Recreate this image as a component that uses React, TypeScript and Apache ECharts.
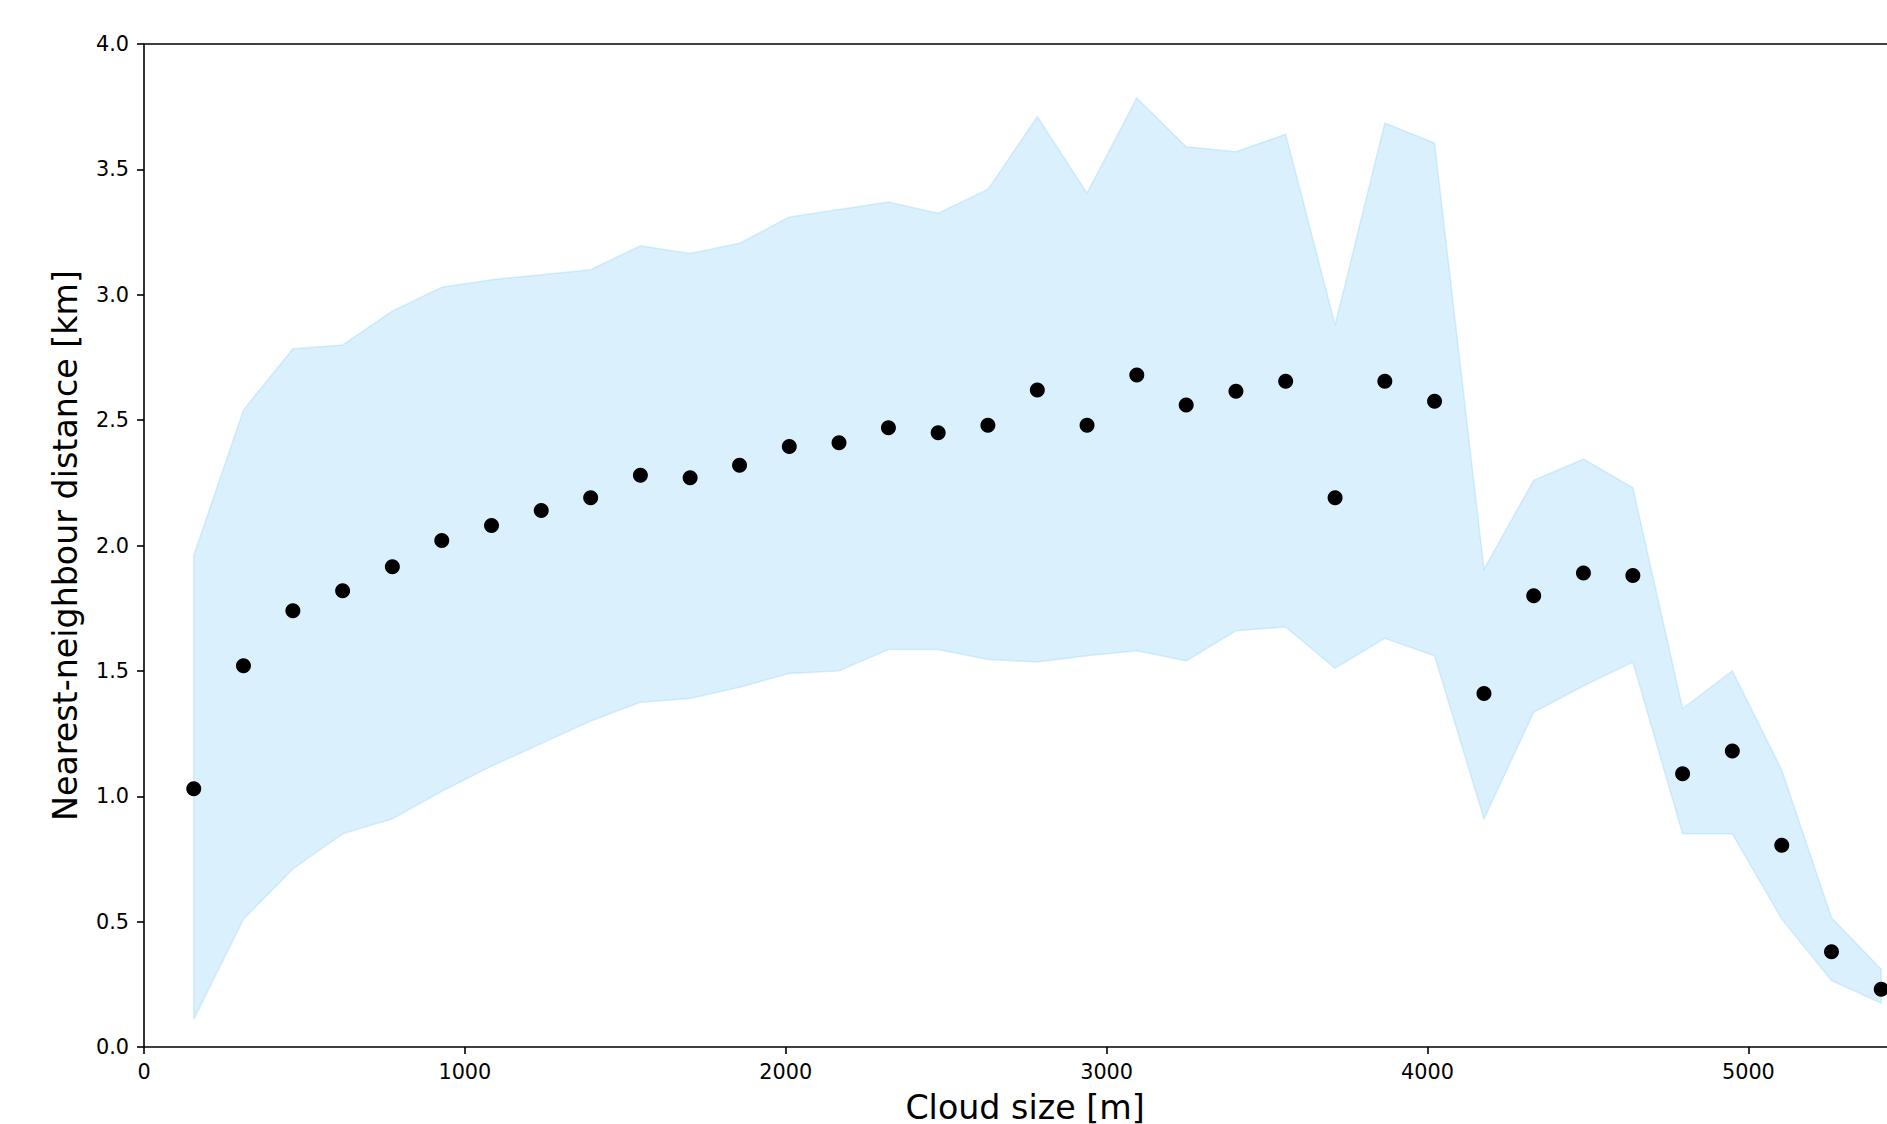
import React, { useEffect, useRef } from "react";
import * as echarts from "echarts";

const cloudSize = [155, 310, 464, 619, 774, 928, 1083, 1238, 1392, 1547, 1702, 1856, 2011, 2166, 2320, 2475, 2630, 2784, 2939, 3094, 3248, 3403, 3558, 3712, 3867, 4022, 4176, 4331, 4486, 4640, 4795, 4950, 5104, 5259, 5414];
const meanDist = [1.03, 1.52, 1.74, 1.82, 1.915, 2.02, 2.08, 2.14, 2.19, 2.28, 2.27, 2.32, 2.395, 2.41, 2.47, 2.45, 2.48, 2.62, 2.48, 2.68, 2.56, 2.615, 2.655, 2.19, 2.655, 2.575, 1.41, 1.8, 1.89, 1.88, 1.09, 1.18, 0.805, 0.38, 0.23];
const upperDist = [1.96, 2.54, 2.785, 2.8, 2.935, 3.03, 3.06, 3.08, 3.1, 3.195, 3.165, 3.205, 3.31, 3.34, 3.37, 3.325, 3.42, 3.71, 3.405, 3.785, 3.59, 3.57, 3.64, 2.88, 3.685, 3.605, 1.905, 2.26, 2.345, 2.23, 1.35, 1.5, 1.105, 0.515, 0.31];
const lowerDist = [0.11, 0.51, 0.71, 0.85, 0.91, 1.02, 1.12, 1.21, 1.3, 1.375, 1.39, 1.435, 1.49, 1.5, 1.585, 1.585, 1.545, 1.535, 1.56, 1.58, 1.54, 1.66, 1.675, 1.51, 1.63, 1.56, 0.91, 1.335, 1.44, 1.535, 0.85, 0.85, 0.51, 0.265, 0.175];
const xTicks = [0, 1000, 2000, 3000, 4000, 5000];
const yTicks = [0, 0.5, 1, 1.5, 2, 2.5, 3, 3.5, 4];

const X_MAX = 5432;

export default function App() {
  const ref = useRef<HTMLDivElement>(null);
  useEffect(() => {
    const chart = echarts.init(ref.current!, null, { renderer: "svg" });
    const font = "DejaVu Sans";
    const lineStyle = { color: "#000", width: 1.6 };
    const bandData = cloudSize.map((x, i) => [x, lowerDist[i], upperDist[i]]);
    chart.setOption({
      animation: false,
      backgroundColor: "#fff",
      grid: { left: 144, right: 0, top: 44, bottom: 77, containLabel: false, outerBoundsMode: "none" },
      xAxis: [
        {
          type: "value",
          min: 0,
          max: X_MAX,
          position: "bottom",
          name: "Cloud size [m]",
          nameLocation: "middle",
          nameGap: 44,
          nameTextStyle: { fontFamily: font, fontSize: 33.3, color: "#000", padding: [0, 0, 0, 19] },
          axisLine: { show: true, onZero: false, lineStyle },
          axisTick: { show: true, length: 7, lineStyle, customValues: xTicks },
          axisLabel: {
            customValues: xTicks,
            fontFamily: font,
            fontSize: 20.8,
            color: "#000",
            margin: 14,
            formatter: (v: number) => String(v),
          },
          splitLine: { show: false },
        },
        {
          type: "value",
          min: 0,
          max: X_MAX,
          position: "top",
          axisLine: { show: true, onZero: false, lineStyle },
          axisTick: { show: false },
          axisLabel: { show: false },
          splitLine: { show: false },
        },
      ],
      yAxis: {
        type: "value",
        min: 0,
        max: 4,
        interval: 0.5,
        name: "Nearest-neighbour distance [km]",
        nameLocation: "middle",
        nameGap: 62,
        nameTextStyle: { fontFamily: font, fontSize: 33.3, color: "#000" },
        axisLine: { show: true, onZero: false, lineStyle },
        axisTick: { show: true, length: 7, lineStyle, customValues: yTicks },
        axisLabel: {
          customValues: yTicks,
          fontFamily: font,
          fontSize: 20.8,
          color: "#000",
          margin: 15,
          formatter: (v: number) => v.toFixed(1),
        },
        splitLine: { show: false },
      },
      series: [
        {
          type: "custom",
          xAxisIndex: 0,
          yAxisIndex: 0,
          data: bandData,
          encode: { x: 0, y: [1, 2] },
          z: 1,
          renderItem: (params: any, api: any) => {
            if (params.dataIndex !== 0) return null;
            const top = cloudSize.map((x, i) => api.coord([x, upperDist[i]]));
            const bottom = cloudSize.map((x, i) => api.coord([x, lowerDist[i]])).reverse();
            return {
              type: "polygon",
              shape: { points: top.concat(bottom) },
              style: { fill: "rgba(135,206,250,0.3)", stroke: "rgba(135,206,250,0.3)", lineWidth: 1.5 },
            };
          },
        },
        {
          type: "scatter",
          xAxisIndex: 0,
          yAxisIndex: 0,
          data: cloudSize.map((x, i) => [x, meanDist[i]]),
          symbol: "circle",
          symbolSize: 15,
          itemStyle: { color: "#000", opacity: 1 },
          z: 3,
        },
      ],
    });
    return () => chart.dispose();
  }, []);
  return (
    <div
      ref={ref}
      style={{ position: "fixed", left: 0, top: 0, width: 1887, height: 1124, background: "#fff" }}
    />
  );
}
